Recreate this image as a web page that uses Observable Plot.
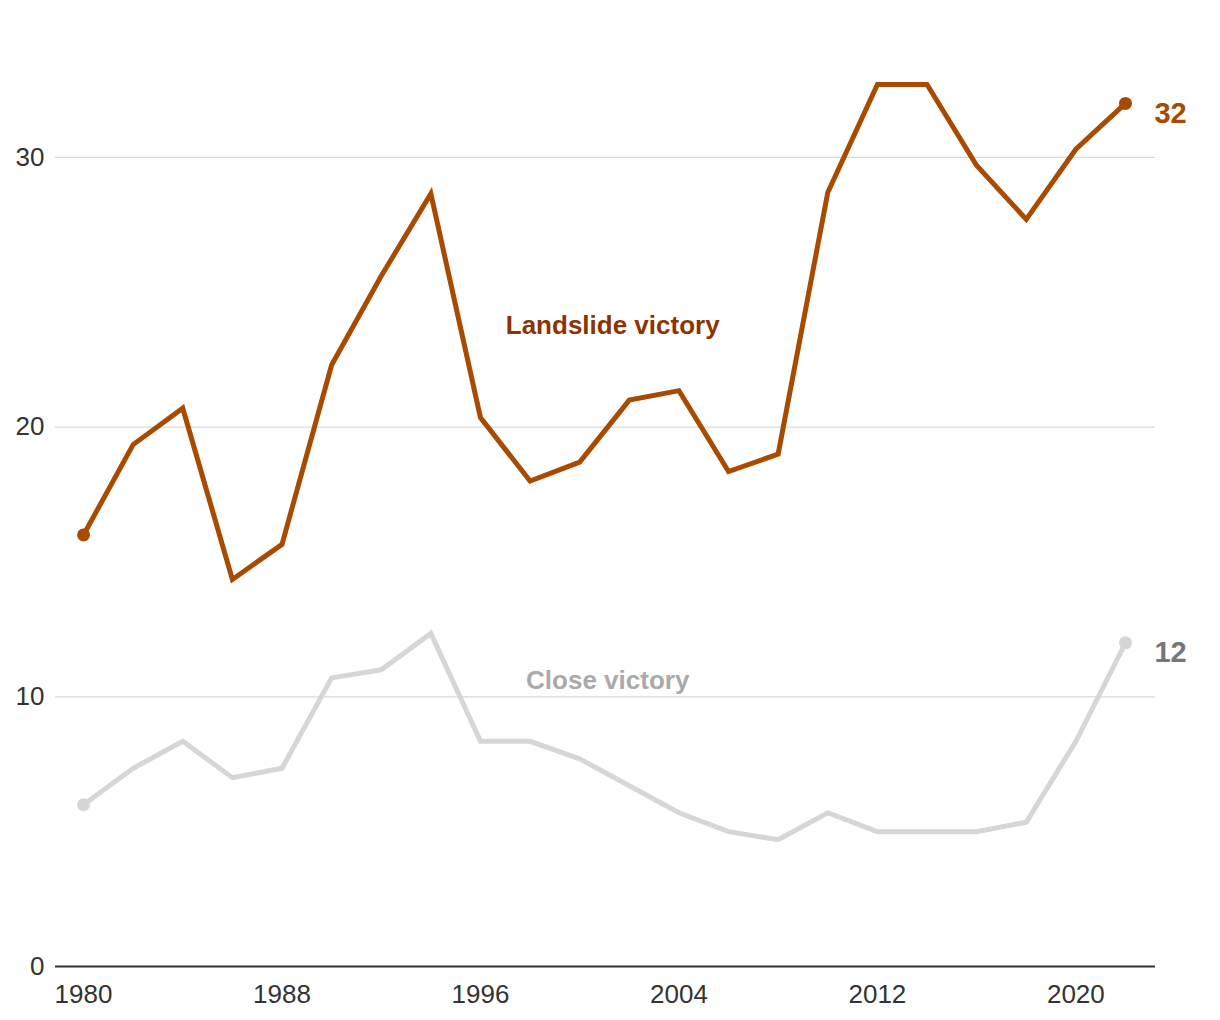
<!DOCTYPE html>
<html>
<head>
<meta charset="utf-8">
<script src="https://cdn.jsdelivr.net/npm/d3@7"></script>
<script src="https://cdn.jsdelivr.net/npm/@observablehq/plot@0.6"></script>
<style>
  html, body { margin: 0; padding: 0; background: #fff; }
  #chart { width: 1220px; height: 1020px; }
</style>
</head>
<body>
<div id="chart"></div>
<script>
const years = [1980,1982,1984,1986,1988,1990,1992,1994,1996,1998,2000,2002,2004,2006,2008,2010,2012,2014,2016,2018,2020,2022];
const landslide = [16.0,19.35,20.7,14.35,15.65,22.3,25.6,28.65,20.35,18.0,18.7,21.0,21.35,18.35,19.0,28.7,32.7,32.7,29.7,27.7,30.3,32.0];
const close = [6.0,7.35,8.35,7.0,7.35,10.7,11.0,12.35,8.35,8.35,7.7,6.7,5.7,5.0,4.7,5.7,5.0,5.0,5.0,5.35,8.35,12.0];
const yTicks = [0,10,20,30];
const xTicks = [1980,1988,1996,2004,2012,2020];
const seriesNames = ["Landslide victory","Close victory"];
const seriesLabelPos = [{year: 2001.33, value: 23.77}, {year: 2001.13, value: 10.6}];

const colors = {line: ["#a84a00", "#d6d6d6"], label: ["#8c3300", "#aaaaaa"], end: ["#a84a00", "#777777"]};

const rows = [];
years.forEach((y, i) => {
  rows.push({year: y, value: landslide[i], series: seriesNames[0]});
  rows.push({year: y, value: close[i], series: seriesNames[1]});
});
const lastIdx = years.length - 1;
const firstLast = rows.filter(d => d.year === years[0] || d.year === years[lastIdx]);
const ends = [
  {year: years[lastIdx], value: landslide[lastIdx], s: 0},
  {year: years[lastIdx], value: close[lastIdx], s: 1}
];
const labels = seriesNames.map((n, i) => ({...seriesLabelPos[i], name: n, s: i}));

const font = "'Liberation Sans', Arial, sans-serif";

const chart = Plot.plot({
  width: 1220,
  height: 1020,
  marginLeft: 55,
  marginRight: 65,
  marginTop: 22,
  marginBottom: 54,
  style: {fontFamily: font, background: "#fff", overflow: "visible"},
  x: {domain: [1978.87, 2023.21]},
  y: {domain: [0, 35]},
  marks: [
    Plot.gridY(yTicks.filter(t => t > 0), {stroke: "#d9d9d9", strokeOpacity: 1, strokeWidth: 1.3}),
    Plot.ruleY([0], {stroke: "#333", strokeWidth: 2}),
    Plot.axisY({ticks: yTicks, tickSize: 0, tickPadding: 11, fontSize: 26, fill: "#333", label: null}),
    Plot.axisX({ticks: xTicks, tickSize: 0, tickPadding: 18, fontSize: 26, fill: "#333", label: null, tickFormat: d => String(d)}),
    Plot.line(rows.filter(d => d.series === seriesNames[1]), {x: "year", y: "value", stroke: colors.line[1], strokeWidth: 5, strokeLinejoin: "miter", strokeMiterlimit: 4}),
    Plot.line(rows.filter(d => d.series === seriesNames[0]), {x: "year", y: "value", stroke: colors.line[0], strokeWidth: 5, strokeLinejoin: "miter", strokeMiterlimit: 4}),
    Plot.dot(firstLast, {x: "year", y: "value", r: 6.5, fill: d => d.series === seriesNames[0] ? colors.line[0] : colors.line[1], stroke: "none"}),
    Plot.text(ends, {x: "year", y: "value", text: d => String(Math.round(d.value)), dx: 29, dy: 10, textAnchor: "start", fontSize: 29, fontWeight: "bold", fill: d => colors.end[d.s]}),
    Plot.text(labels, {x: "year", y: "value", text: "name", fontSize: 26, fontWeight: "bold", fill: d => colors.label[d.s]})
  ]
});
document.getElementById("chart").appendChild(chart);
</script>
</body>
</html>
